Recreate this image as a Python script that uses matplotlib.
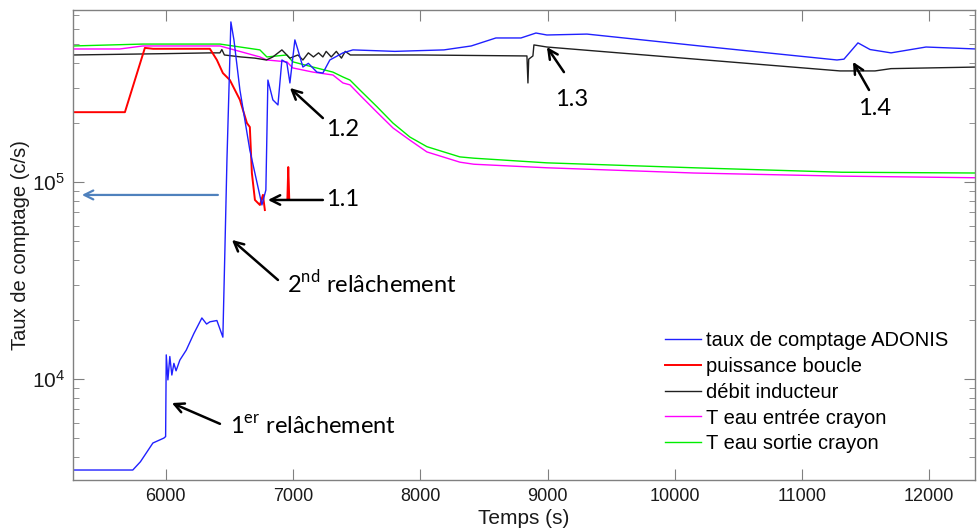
import numpy as np
import matplotlib
matplotlib.use('Agg')
import matplotlib.pyplot as plt
from matplotlib.ticker import LogLocator, NullFormatter, FixedLocator

plt.rcParams['font.family'] = ['Liberation Sans', 'DejaVu Sans']
plt.rcParams['mathtext.fontset'] = 'custom'
plt.rcParams['mathtext.rm'] = 'Lato'

nan = np.nan

# taux de comptage ADONIS
blue_t = [5270, 5740, 5800, 5898, 5984, 5998, 6003, 6016, 6031, 6047, 6063, 6080,
          6110, 6160, 6220, 6283, 6320, 6346, 6401, 6448, 6464, 6480, 6511, 6535,
          6582, 6660, 6755, 6786, 6802, 6841, 6881, 6912, 6951, 6975, 7014, 7038,
          7077, 7120, 7187, 7234, 7289, 7392, 7470, 7800, 8186, 8400, 8594, 8791,
          8909, 8995, 9310, 10198, 11275, 11330, 11440, 11535, 11700, 11975, 12370]
blue_v = [3450, 3450, 3800, 4730, 5010, 5100, 13250, 9890, 13000, 10470, 12000, 11000,
          12470, 14000, 17000, 20400, 19000, 19500, 19800, 16300, 45200, 129000, 649000, 526000,
          293000, 145000, 76400, 91000, 329000, 261000, 246000, 416000, 402000, 318000, 526000, 468000,
          383000, 400000, 361000, 357000, 416000, 452000, 468000, 460000, 468000, 490000, 538000, 538000,
          570000, 557000, 563000, 490000, 416000, 420000, 508000, 470000, 452000, 484000, 473000]

# puissance boucle
red_t = [5270, 5678, 5835, 5900, 6346, 6401, 6448, 6503, 6582, 6637, 6660, 6676,
         6700, 6739, 6763, 6778, nan, 6955, 6962, 6970]
red_v = [226000, 226000, 479000, 474000, 474000, 416000, 357000, 329000, 261000, 199000, 190000, 111000,
         81000, 76400, 86000, 72000, nan, 81000, 119000, 81000]

# debit inducteur
black_t = [5270, 6000, 6350, 6425, 6440, 6460, 6590, 6700, 6790, 6841, 6912, 6975,
           7038, 7077, 7120, 7160, 7200, 7234, 7260, 7300, 7340, 7380, 7410, 7450,
           8000, 8838, 8846, 8852, 8885, 8893, 8995, 11299, 11574, 11700, 12376]
black_v = [441000, 448000, 452000, 452000, 470000, 441000, 431000, 425000, 416000, 431000, 468000, 425000,
           441000, 416000, 452000, 431000, 452000, 431000, 460000, 431000, 460000, 425000, 460000, 441000,
           441000, 436000, 318000, 420000, 436000, 496000, 484000, 366000, 366000, 376000, 383000]

# T eau entree crayon
mag_t = [5269, 5638, 5819, 6425, 6739, 6794, 6951, 6998, 7156, 7313, 7392, 7447,
         7525, 7659, 7785, 7918, 8052, 8311, 8421, 8995, 10151, 11314, 12376]
mag_v = [473000, 473000, 490000, 490000, 431000, 416000, 407000, 379000, 361000, 349000, 318000, 311000,
         276000, 226000, 188000, 163000, 142000, 126000, 123000, 118000, 111000, 107000, 105000]

# T eau sortie crayon
green_t = [5269, 5819, 6425, 6739, 6794, 6951, 6998, 7156, 7313, 7392, 7447, 7525,
           7659, 7785, 7918, 8052, 8311, 8421, 8995, 10151, 11314, 12376]
green_v = [490000, 501000, 501000, 468000, 431000, 441000, 407000, 383000, 361000, 341000, 329000, 293000,
           241000, 199000, 169000, 151000, 134000, 132000, 125000, 118000, 112000, 111000]

labels = ['taux de comptage ADONIS', 'puissance boucle', 'débit inducteur',
          'T eau entrée crayon', 'T eau sortie crayon']

# annotations: text, text position, arrow tail, arrow head
notes = [
    ('1.1', (7258, 81000), (7234, 81000), (6802, 81000)),
    ('1.2', (7255, 184000), (7234, 211000), (6975, 300000)),
    ('1.3', (9060, 261000), (9129, 361000), (8995, 484000)),
    ('1.4', (11440, 237000), (11527, 293000), (11401, 407000)),
    ('2$^{\\mathrm{nd}}$ relâchement', (6951, 30700), (6881, 31800), (6519, 50800)),
    ('1$^{\\mathrm{er}}$ relâchement', (6503, 5700), (6425, 5920), (6047, 7550)),
]

fig = plt.figure(figsize=(9.77, 5.29), dpi=100)
ax = fig.add_axes([73/977, 49/529, 902/977, 470/529])

ax.plot(green_t, green_v, color='#00ee00', lw=1.0, label=labels[4])
ax.plot(mag_t, mag_v, color='#ff00ff', lw=1.0, label=labels[3])
ax.plot(black_t, black_v, color='#202020', lw=1.0, label=labels[2])
ax.plot(red_t, red_v, color='#ff0000', lw=1.4, label=labels[1])
ax.plot(blue_t, blue_v, color='#2020ff', lw=1.0, label=labels[0])

ax.set_yscale('log')
ax.set_xlim(5270, 12360)
ax.set_ylim(3070, 746000)
ax.xaxis.set_major_locator(FixedLocator(np.arange(6000, 12001, 1000)))
ax.yaxis.set_major_locator(LogLocator(base=10))
ax.yaxis.set_minor_locator(LogLocator(base=10, subs=np.arange(2, 10)))
ax.yaxis.set_minor_formatter(NullFormatter())

for s in ax.spines.values():
    s.set_color('#808080')
    s.set_linewidth(1.0)
ax.tick_params(which='both', direction='in', top=True, right=True, colors='#808080',
               labelcolor='#1a1a1a')
ax.tick_params(axis='x', labelsize=13, pad=6)
ax.tick_params(axis='y', labelsize=15, pad=6)
ax.tick_params(which='major', length=8)
ax.tick_params(which='minor', length=4)
ax.set_xlabel('Temps (s)', fontsize=15, color='#1a1a1a', labelpad=3)
ax.set_ylabel('Taux de comptage (c/s)', fontsize=14.5, color='#1a1a1a', labelpad=1)

handles, labs = ax.get_legend_handles_labels()
order = [4, 3, 2, 1, 0]
ax.legend([handles[i] for i in order], [labs[i] for i in order],
          loc='upper left', bbox_to_anchor=(665/977, 1 - 331/529), bbox_transform=fig.transFigure,
          frameon=False, fontsize=14.5, handlelength=1.8, handletextpad=0.25,
          labelspacing=0.34, borderpad=0, borderaxespad=0)

for txt, tpos, tail, head in notes:
    ax.text(tpos[0], tpos[1], txt, fontsize=17, family='Lato', color='black',
            va='center', ha='left')
    ax.annotate('', xy=head, xytext=tail,
                arrowprops=dict(arrowstyle='->', color='black', lw=1.8, mutation_scale=17,
                                shrinkA=0, shrinkB=0))

ax.annotate('', xy=(5340, 85900), xytext=(6409, 85900),
            arrowprops=dict(arrowstyle='->', color='#4f81bd', lw=1.6, mutation_scale=16,
                            shrinkA=0, shrinkB=0))

fig.savefig('out.png', dpi=100)
